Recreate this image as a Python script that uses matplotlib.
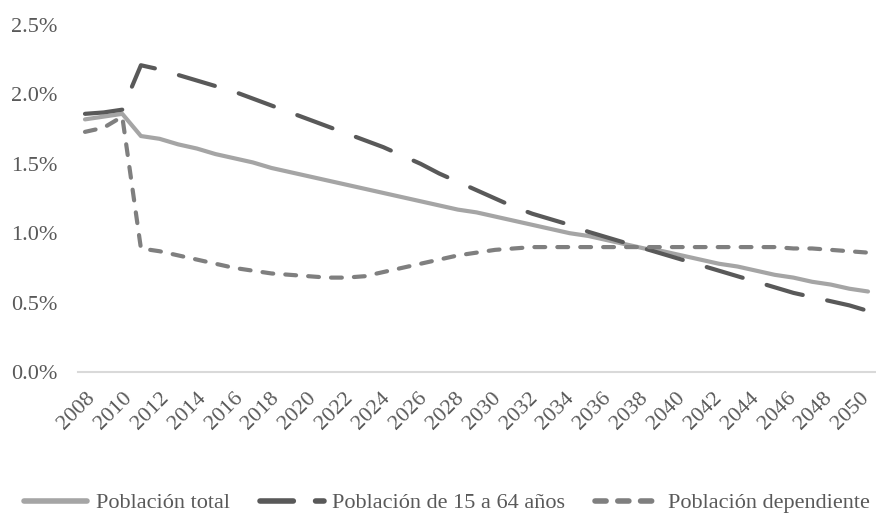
import matplotlib
matplotlib.use("Agg")
import matplotlib.pyplot as plt
from matplotlib.lines import Line2D
from matplotlib.ticker import FuncFormatter, MultipleLocator
from matplotlib.transforms import ScaledTranslation, blended_transform_factory

plt.rcParams['font.family'] = ['Liberation Serif', 'DejaVu Serif']

years = list(range(2008, 2051))

poblacion_total = [
    1.82, 1.84, 1.86, 1.70, 1.68, 1.64, 1.61, 1.57, 1.54, 1.51,
    1.47, 1.44, 1.41, 1.38, 1.35, 1.32, 1.29, 1.26, 1.23, 1.20,
    1.17, 1.15, 1.12, 1.09, 1.06, 1.03, 1.00, 0.98, 0.95, 0.92,
    0.89, 0.87, 0.84, 0.81, 0.78, 0.76, 0.73, 0.70, 0.68, 0.65,
    0.63, 0.60, 0.58,
]

poblacion_15_64 = [
    1.86, 1.87, 1.89, 2.21, 2.18, 2.14, 2.10, 2.06, 2.02, 1.97,
    1.92, 1.87, 1.82, 1.77, 1.72, 1.67, 1.62, 1.56, 1.50, 1.43,
    1.37, 1.31, 1.25, 1.19, 1.14, 1.10, 1.06, 1.01, 0.97, 0.93,
    0.89, 0.85, 0.81, 0.77, 0.73, 0.69, 0.65, 0.61, 0.57, 0.54,
    0.51, 0.48, 0.44,
]

poblacion_dependiente = [
    1.73, 1.76, 1.84, 0.89, 0.87, 0.84, 0.81, 0.78, 0.75, 0.73,
    0.71, 0.70, 0.69, 0.68, 0.68, 0.69, 0.72, 0.75, 0.78, 0.81,
    0.84, 0.86, 0.88, 0.89, 0.90, 0.90, 0.90, 0.90, 0.90, 0.90,
    0.90, 0.90, 0.90, 0.90, 0.90, 0.90, 0.90, 0.90, 0.89, 0.89,
    0.88, 0.87, 0.86,
]

tick_years = list(range(2008, 2051, 2))
labels = ["Población total", "Población de 15 a 64 años", "Población dependiente"]

c_total = '#a5a5a5'
c_1564 = '#595959'
c_dep = '#7f7f7f'
text_color = '#595959'

fig = plt.figure(figsize=(8.76, 5.15), dpi=100)
ax = fig.add_axes([78/876, (515-372)/515, (875-78)/876, (372-25)/515])

lw = 3.0
ax.plot(years, poblacion_total, color=c_total, lw=lw, solid_capstyle='round',
        solid_joinstyle='round', label=labels[0])
l2, = ax.plot(years, poblacion_15_64, color=c_1564, lw=lw, dash_capstyle='round',
              dash_joinstyle='round', label=labels[1])
l2.set_dashes([9, 6])
l3, = ax.plot(years, poblacion_dependiente, color=c_dep, lw=lw, dash_capstyle='round',
              dash_joinstyle='round', label=labels[2])
l3.set_dashes([2.6, 2.9])

ax.set_ylim(0, 2.5)
ax.yaxis.set_major_locator(MultipleLocator(0.5))
ax.yaxis.set_major_formatter(FuncFormatter(lambda v, p: f"{v:.1f}%"))
ax.set_xlim(2008 - 0.375, 2050 + 0.375)
ax.set_xticks(tick_years)
ax.set_xticklabels([])

base = blended_transform_factory(ax.transData, ax.transAxes)
n = len(tick_years) - 1
for k, yr in enumerate(tick_years):
    dx_px = 7.5 - 9.0 * k / n
    trans = base + ScaledTranslation(dx_px / 100, -0.233, fig.dpi_scale_trans)
    ax.text(yr, 0, str(yr), transform=trans, rotation=45, ha='right',
            va='center', rotation_mode='anchor', fontsize=16, color=text_color,
            clip_on=False)

for s in ['top', 'right', 'left']:
    ax.spines[s].set_visible(False)
ax.spines['bottom'].set_color('#d9d9d9')
ax.spines['bottom'].set_linewidth(1.5)

ax.tick_params(axis='y', length=0, pad=15, labelsize=16, labelcolor=text_color)
ax.tick_params(axis='x', length=0)

handles = [
    Line2D([], [], color=c_total, lw=lw + 1, solid_capstyle='round'),
    Line2D([], [], color=c_1564, lw=lw + 1, dashes=[6, 4], dash_capstyle='round'),
    Line2D([], [], color=c_dep, lw=lw + 1, dashes=[2, 2.1], dash_capstyle='round'),
]
leg = fig.legend(handles, labels, loc='center', bbox_to_anchor=(0.51, 1 - 503/515),
                 ncol=3, frameon=False, fontsize=16, handlelength=2.85,
                 handletextpad=0.4, columnspacing=1.35, labelcolor=text_color)

fig.savefig('out.png', dpi=100)
